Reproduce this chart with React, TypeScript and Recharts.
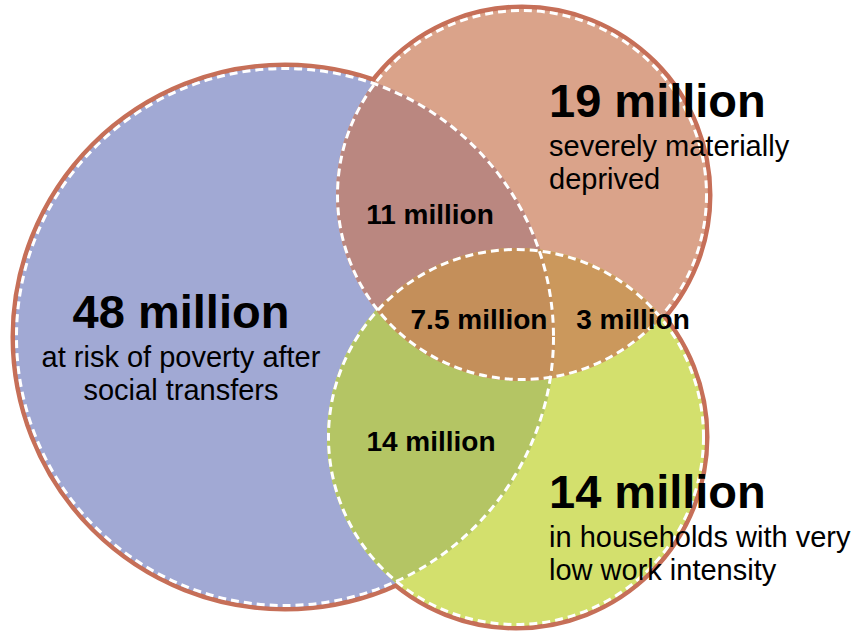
import React from 'react';
import { ScatterChart, Scatter, XAxis, YAxis } from 'recharts';

const CHART_W = 859;
const CHART_H = 631;
const X_MAX = 859;
const Y_MAX = 631;

// Venn sets (layout units)
const setNames = ['poverty', 'deprived', 'lowWork'];
const setX = [285, 522, 516];
const setY = [337, 195, 437];
const setR = [270, 186, 189];
const setColors = ['#A1A9D4', '#DAA38A', '#D3E06D'];

// Overlap regions: [base set, ...clipping sets]
const overlapSets = [
  [0, 1],
  [0, 2],
  [1, 2],
  [0, 1, 2],
];
const overlapColors = ['#BA8780', '#B4C564', '#CB985C', '#C48F5A'];

// Set titles and descriptions
const titleTexts = ['48 million', '19 million', '14 million'];
const titleX = [181, 549, 549];
const titleY = [328, 117, 508];
const titleAnchors = ['middle', 'start', 'start'];
const subtitleLines = [
  ['at risk of poverty after', 'social transfers'],
  ['severely materially', 'deprived'],
  ['in households with very', 'low work intensity'],
];

// Overlap values
const innerTexts = ['11 million', '7.5 million', '3 million', '14 million'];
const innerX = [430, 479, 633, 431];
const innerY = [224, 329, 329, 451];

const RED = '#C66F58';
const FONT = '"Liberation Sans", Arial, Helvetica, sans-serif';
const PX = CHART_W / X_MAX;

const circles = setNames.map((name, i) => ({
  name,
  x: setX[i],
  y: setY[i],
  r: setR[i],
  color: setColors[i],
}));

const overlaps = overlapSets.map((s, i) => ({
  x: setX[s[0]],
  y: setY[s[0]],
  r: setR[s[0]],
  clips: s.slice(1).map((k) => setNames[k]),
  color: overlapColors[i],
}));

const titles = titleTexts.map((t, i) => ({
  x: titleX[i],
  y: titleY[i],
  text: t,
  anchor: titleAnchors[i],
  lines: subtitleLines[i],
}));

const inners = innerTexts.map((t, i) => ({ x: innerX[i], y: innerY[i], text: t }));

const OutlineShape = (p: any) => (
  <circle cx={p.cx} cy={p.cy} r={p.payload.r * PX} fill="none" stroke={RED} strokeWidth={9} />
);

const FillShape = (p: any) => (
  <g>
    <defs>
      <clipPath id={`clip-${p.payload.name}`}>
        <circle cx={p.cx} cy={p.cy} r={p.payload.r * PX} />
      </clipPath>
    </defs>
    <circle cx={p.cx} cy={p.cy} r={p.payload.r * PX} fill={p.payload.color} />
  </g>
);

const OverlapShape = (p: any) => {
  let el: any = <circle cx={p.cx} cy={p.cy} r={p.payload.r * PX} fill={p.payload.color} />;
  for (const c of p.payload.clips) {
    el = <g clipPath={`url(#clip-${c})`}>{el}</g>;
  }
  return el;
};

const DashShape = (p: any) => (
  <circle
    cx={p.cx}
    cy={p.cy}
    r={p.payload.r * PX - 1.5}
    fill="none"
    stroke="#FFFFFF"
    strokeWidth={3}
    strokeDasharray="8 5"
  />
);

const TitleShape = (p: any) => (
  <text x={p.cx} y={p.cy} textAnchor={p.payload.anchor} fontFamily={FONT} fill="#000">
    <tspan x={p.cx} fontSize={47} fontWeight="bold">{p.payload.text}</tspan>
    <tspan x={p.cx} dy={39} fontSize={29}>{p.payload.lines[0]}</tspan>
    <tspan x={p.cx} dy={33} fontSize={29}>{p.payload.lines[1]}</tspan>
  </text>
);

const InnerShape = (p: any) => (
  <text x={p.cx} y={p.cy} textAnchor="middle" fontFamily={FONT} fontSize={28} fontWeight="bold" fill="#000">
    {p.payload.text}
  </text>
);

export default function App() {
  return (
    <div style={{ position: 'absolute', left: 0, top: 0, background: '#fff' }}>
      <ScatterChart width={CHART_W} height={CHART_H} margin={{ top: 0, right: 0, bottom: 0, left: 0 }}>
        <XAxis type="number" dataKey="x" domain={[0, X_MAX]} hide />
        <YAxis type="number" dataKey="y" domain={[0, Y_MAX]} reversed hide />
        <Scatter data={circles} shape={OutlineShape} isAnimationActive={false} />
        <Scatter data={circles} shape={FillShape} isAnimationActive={false} />
        <Scatter data={overlaps} shape={OverlapShape} isAnimationActive={false} />
        <Scatter data={circles} shape={DashShape} isAnimationActive={false} />
        <Scatter data={titles} shape={TitleShape} isAnimationActive={false} />
        <Scatter data={inners} shape={InnerShape} isAnimationActive={false} />
      </ScatterChart>
    </div>
  );
}
